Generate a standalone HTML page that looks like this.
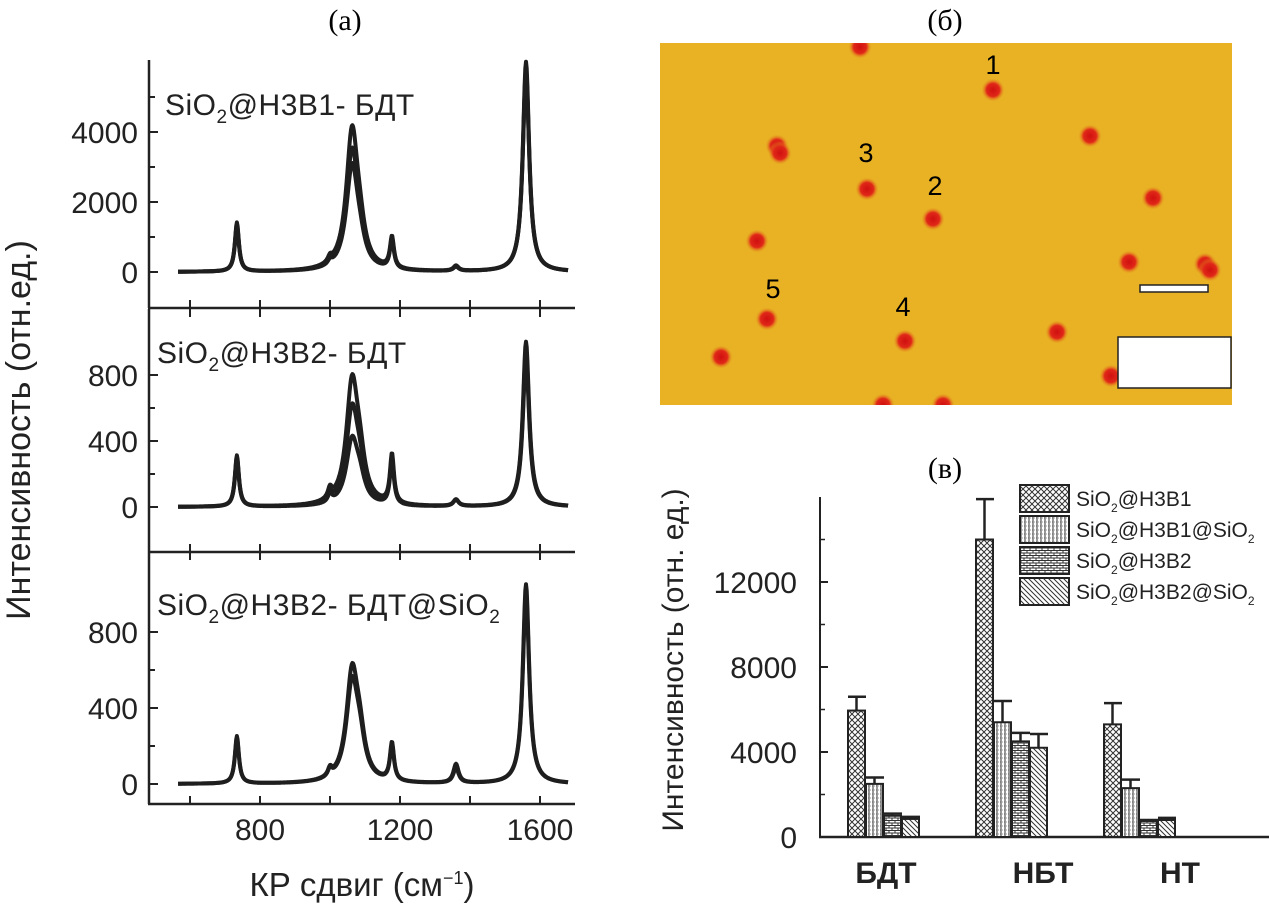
<!DOCTYPE html>
<html><head><meta charset="utf-8"><style>
body{margin:0;background:#fff}
svg{display:block;font-family:"Liberation Sans","DejaVu Sans",sans-serif}
</style></head><body>
<svg id="fig" width="1269" height="910" viewBox="0 0 1269 910">
<defs>
<pattern id="p1" width="6" height="6" patternUnits="userSpaceOnUse"><rect width="6" height="6" fill="#fff"/><path d="M0 0L6 6M6 0L0 6" stroke="#333" stroke-width="1"/></pattern>
<pattern id="p2" width="4" height="4" patternUnits="userSpaceOnUse"><rect width="4" height="4" fill="#fff"/><path d="M1 0V4" stroke="#333" stroke-width="1"/><path d="M0 2H4" stroke="#333" stroke-width="0.5" stroke-dasharray="1 1"/></pattern>
<pattern id="p3" width="6" height="5" patternUnits="userSpaceOnUse"><rect width="6" height="5" fill="#fff"/><path d="M0 0.5H6M0 3H6M1 0.5V3M4 3V5.5" stroke="#333" stroke-width="1"/></pattern>
<pattern id="p4" width="5" height="5" patternUnits="userSpaceOnUse"><rect width="5" height="5" fill="#fff"/><path d="M0 0L5 5M-1 4L1 6M4 -1L6 1" stroke="#333" stroke-width="1"/></pattern>
<radialGradient id="dot"><stop offset="0" stop-color="#d01010"/><stop offset="0.55" stop-color="#e02818"/><stop offset="1" stop-color="#e8b020" stop-opacity="0"/></radialGradient>
<clipPath id="imgclip"><rect x="660" y="43" width="572" height="362"/></clipPath>
</defs>

<text x="345" y="30" font-family="Liberation Serif" font-size="30" text-anchor="middle">(a)</text>
<text x="945" y="30" font-family="Liberation Serif" font-size="30" text-anchor="middle">(б)</text>
<text x="945" y="478" font-family="Liberation Serif" font-size="30" text-anchor="middle">(в)</text>

<g id="left"></g>
<text transform="translate(30,430) rotate(-90)" font-size="34" text-anchor="middle" fill="#222">Интенсивность (отн.ед.)</text>
<text x="362" y="896" font-size="33" text-anchor="middle" fill="#222">КР сдвиг (см<tspan dy="-12" font-size="18">−1</tspan><tspan dy="12">)</tspan></text>

<g>
<rect x="660" y="43" width="572" height="362" fill="#e8b224"/>
<g id="dots" clip-path="url(#imgclip)"></g>
<text x="993" y="74" font-size="27" text-anchor="middle">1</text>
<text x="935" y="195" font-size="27" text-anchor="middle">2</text>
<text x="866" y="162" font-size="27" text-anchor="middle">3</text>
<text x="903" y="316" font-size="27" text-anchor="middle">4</text>
<text x="773" y="298" font-size="27" text-anchor="middle">5</text>
<rect x="1140" y="285" width="68" height="7" fill="#fff" stroke="#222" stroke-width="1.5"/>
<rect x="1118" y="337" width="113" height="51" fill="#fff" stroke="#222" stroke-width="1.5"/>
</g>

<g id="bars"></g>
<text transform="translate(683,660) rotate(-90)" font-size="30" text-anchor="middle" fill="#222">Интенсивность (отн. ед.)</text>
</svg>
<script>
// ---------- Spectra data ----------
const peakPositions = [734, 1000, 1063, 1085, 1177, 1360, 1560];
const peakWidths = [7, 7, 20, 18, 7, 9, 11];
const spec1Heights = [[1400,150,3900,700,900,150,6000],[1300,120,3300,600,850,120,5700],[1350,120,2900,500,850,140,5800]];
const spec2Heights = [[310,60,720,200,300,40,1000],[300,50,560,160,280,40,950],[290,50,380,120,270,40,900]];
const spec3Heights = [[250,40,560,180,200,100,1050],[240,40,500,160,190,80,1000]];
const xTicks = [800, 1200, 1600];
const spec1YTicks = [0, 2000, 4000];
const spec2YTicks = [0, 400, 800];
const spec3YTicks = [0, 400, 800];
const labels = ["H3B1- БДТ","H3B2- БДТ","H3B2- БДТ@SiO"];

// ---------- Bar data ----------
const categories = ["БДТ","НБТ","НТ"];
const seriesNames = ["SiO@H3B1","SiO@H3B1@SiO","SiO@H3B2","SiO@H3B2@SiO"];
const valH3B1 = [5950, 14000, 5300];
const valH3B1SiO = [2500, 5400, 2300];
const valH3B2 = [1000, 4500, 750];
const valH3B2SiO = [850, 4200, 800];
const errH3B1 = [650, 1900, 1000];
const errH3B1SiO = [300, 1000, 400];
const errH3B2 = [100, 400, 50];
const errH3B2SiO = [100, 650, 100];
const barYTicks = [0, 4000, 8000, 12000];

const NS = "http://www.w3.org/2000/svg";
function mk(tag, attrs, parent){const e=document.createElementNS(NS,tag);for(const k in attrs)e.setAttribute(k,attrs[k]);parent.appendChild(e);return e;}

const xS = v => 260 + (v-800)*0.35;
const left = document.getElementById('left');
const panels = [
 {top:60,bottom:308,zero:272,ppu:35/1000,ticks:spec1YTicks,minor:[1000,3000,5000],data:spec1Heights,lab:labels[0],ly:115,sub2:false},
 {top:309,bottom:552,zero:507,ppu:66/400,ticks:spec2YTicks,minor:[200,600],data:spec2Heights,lab:labels[1],ly:363,sub2:false},
 {top:552,bottom:804,zero:784,ppu:76/400,ticks:spec3YTicks,minor:[200,600],data:spec3Heights,lab:labels[2],ly:615,sub2:true}
];
panels.forEach((p,pi)=>{
  const yS = v => p.zero - v*p.ppu;
  let l=mk('line',{x1:149,y1:p.top,x2:149,y2:p.bottom,stroke:'#222','stroke-width':2.5},left);
  
  
  l=mk('line',{x1:148,y1:p.bottom,x2:575,y2:p.bottom,stroke:'#222','stroke-width':2.5},left);
  
  
  [600,800,1000,1200,1400,1600].forEach(v=>{
    mk('line',{x1:xS(v),y1:p.bottom,x2:xS(v),y2:p.bottom-8,stroke:'#222','stroke-width':2},left);
    if(pi>0) mk('line',{x1:xS(v),y1:p.top,x2:xS(v),y2:p.top+8,stroke:'#222','stroke-width':2},left);
  });
  p.ticks.forEach(v=>{
    mk('line',{x1:149,y1:yS(v),x2:158,y2:yS(v),stroke:'#222','stroke-width':2},left);
    const t=mk('text',{x:138,y:yS(v)+11,'font-size':30,'text-anchor':'end',fill:'#222'},left);
    t.textContent=v;
    
    
  });
  p.minor.forEach(v=>mk('line',{x1:149,y1:yS(v),x2:155,y2:yS(v),stroke:'#222','stroke-width':2},left));
  p.data.forEach((hs,ti)=>{
    let d='';
    for(let x=566;x<=1680;x+=2){
      let y=0;
      peakPositions.forEach((c,i)=>{const w=peakWidths[i];y+=hs[i]*w*w/((x-c)*(x-c)+w*w);});
      d+=(x===566?'M':'L')+xS(x).toFixed(1)+' '+yS(y).toFixed(1);
    }
    const path=mk('path',{d:d,fill:'none',stroke:'#1e1e1e','stroke-width':4,'stroke-linejoin':'round'},left);
    
    
  });
  const t=mk('text',{x:pi===0?165:157,y:p.ly,'font-size':30,fill:'#222','letter-spacing':'0.5'},left);
  
  
  t.innerHTML='SiO<tspan dy="8" font-size="19">2</tspan><tspan dy="-8">@'+p.lab+'</tspan>'+(p.sub2?'<tspan dy="8" font-size="19">2</tspan>':'');
});
xTicks.forEach(v=>{
  const t=mk('text',{x:xS(v),y:840,'font-size':30,'text-anchor':'middle',fill:'#222'},left);
  t.textContent=v;
  
  
});

// dots in image
const dotPos=[[860,47],[993,90],[777,146],[780,153],[1090,136],[867,189],[933,219],[1153,198],[757,241],[1129,262],[1205,264],[1210,270],[767,319],[905,341],[1057,332],[721,357],[1111,376],[883,405],[943,405]];
const dg=document.getElementById('dots');
dotPos.forEach(p=>{const c=mk('circle',{cx:p[0],cy:p[1],r:12,fill:'url(#dot)'},dg);
  
  });

// bars
const bg=document.getElementById('bars');
const yB = v => 837 - v*85/4000;
const groupStart=[848,976,1104];
const barW=17, step=18;
const vals=[valH3B1,valH3B1SiO,valH3B2,valH3B2SiO];
const errs=[errH3B1,errH3B1SiO,errH3B2,errH3B2SiO];
const pats=['url(#p1)','url(#p2)','url(#p3)','url(#p4)'];
let ax=mk('line',{x1:820,y1:497,x2:820,y2:838,stroke:'#222','stroke-width':2},bg);


ax=mk('line',{x1:819,y1:837,x2:1269,y2:837,stroke:'#222','stroke-width':2.5},bg);


barYTicks.forEach(v=>{
  mk('line',{x1:820,y1:yB(v),x2:828,y2:yB(v),stroke:'#222','stroke-width':2},bg);
  const t=mk('text',{x:797,y:yB(v)+11,'font-size':30,'text-anchor':'end',fill:'#222'},bg);
  t.textContent=v;
  
  
});
[2000,6000,10000,14000].forEach(v=>mk('line',{x1:820,y1:yB(v),x2:825,y2:yB(v),stroke:'#222','stroke-width':1.5},bg));
const catCenters=[886,1043,1180];
categories.forEach((c,ci)=>{
  vals.forEach((arr,si)=>{
    const x=groupStart[ci]+si*step, v=arr[ci], e=errs[si][ci];
    const r=mk('rect',{x:x,y:yB(v),width:barW,height:837-yB(v),fill:pats[si],stroke:'#222','stroke-width':2},bg);
    
    
    const ex=x+barW/2;
    mk('line',{x1:ex,y1:yB(v),x2:ex,y2:yB(v+e),stroke:'#222','stroke-width':2.5},bg);
    mk('line',{x1:ex-barW/2,y1:yB(v+e),x2:ex+barW/2+1,y2:yB(v+e),stroke:'#222','stroke-width':2.5},bg);
  });
  const t=mk('text',{x:catCenters[ci],y:883,'font-size':30,'font-weight':'bold','text-anchor':'middle',fill:'#222'},bg);
  t.textContent=c;
  
  
});
seriesNames.forEach((n,i)=>{
  const y=485+i*31;
  const r=mk('rect',{x:1020,y:y,width:49,height:27,fill:pats[i],stroke:'#222','stroke-width':2},bg);
  
  
  const t=mk('text',{x:1076,y:y+21,'font-size':21,fill:'#222'},bg);
  
  
  const parts=n.split('@');
  let h='SiO<tspan dy="6" font-size="12">2</tspan><tspan dy="-6">@'+parts[1]+'</tspan>';
  if(parts.length>2) h+='<tspan>@SiO</tspan><tspan dy="6" font-size="12">2</tspan>';
  t.innerHTML=h;
});
</script>
</body></html>
